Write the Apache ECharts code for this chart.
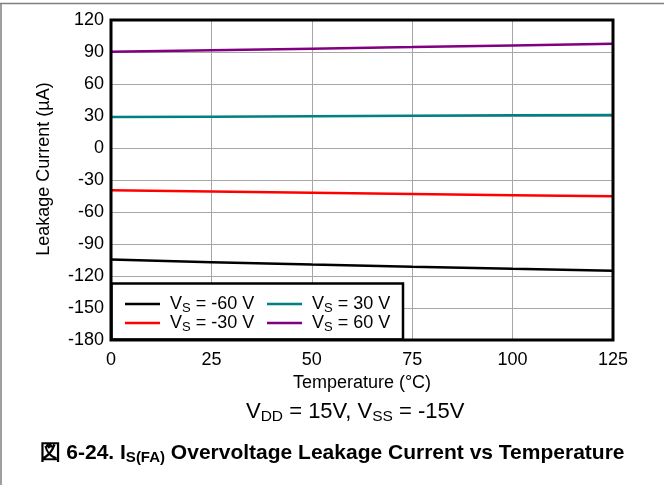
<!DOCTYPE html>
<html>
<head>
<meta charset="utf-8">
<script src="https://cdn.jsdelivr.net/npm/echarts@6/dist/echarts.min.js"></script>
<style>html,body{margin:0;padding:0;background:#fff;}#c{width:664px;height:485px;}</style>
</head>
<body>
<div id="c"></div>
<script>
const temps = [0, 25, 50, 75, 100, 125];
const vsNeg60 = [-104.5, -107, -109.3, -111.3, -113.2, -115];
const vsNeg30 = [-39.5, -40.8, -42, -43.1, -44.2, -45.2];
const vs30 = [29, 29.4, 29.8, 30.2, 30.6, 30.9];
const vs60 = [90.2, 91.6, 93.1, 94.6, 96.2, 97.8];
const seriesNames = ['VS = -60 V', 'VS = -30 V', 'VS = 30 V', 'VS = 60 V'];
const seriesLabels = ['-60 V', '-30 V', '30 V', '60 V'];
const seriesColors = ['#000000', '#ff0000', '#008080', '#800080'];
const seriesData = [vsNeg60, vsNeg30, vs30, vs60];

const FONT = "'Liberation Sans', Arial, sans-serif";
const chart = echarts.init(document.getElementById('c'), null, {renderer: 'canvas'});

const legendPos = [
  {left: 125, top: 295},
  {left: 125, top: 314},
  {left: 267, top: 295},
  {left: 267, top: 314}
];

const legends = seriesNames.map((n, i) => ({
  data: [n],
  left: legendPos[i].left,
  top: legendPos[i].top,
  padding: 0,
  icon: 'rect',
  itemWidth: 35,
  itemHeight: 2.5,
  selectedMode: false,
  z: 10,
  formatter: function () {
    return '{p|}{v|V}{s|S}{v| = ' + seriesLabels[i] + '}';
  },
  textStyle: {
    fontFamily: FONT,
    color: '#000',
    rich: {
      p: {width: 5},
      v: {fontSize: 18, fontFamily: FONT, color: '#000'},
      s: {fontSize: 13, fontFamily: FONT, color: '#000', padding: [8, 0, 0, 0]}
    }
  }
}));

const series = seriesNames.map((n, i) => ({
  name: n,
  type: 'line',
  data: temps.map((t, k) => [t, seriesData[i][k]]),
  symbol: 'none',
  smooth: false,
  color: seriesColors[i],
  lineStyle: {color: seriesColors[i], width: 2.5},
  z: 2
}));

const option = {
  animation: false,
  backgroundColor: '#fff',
  grid: {
    left: 111, right: 51, top: 20, bottom: 145,
    show: false, containLabel: false
  },
  legend: legends,
  xAxis: {
    type: 'value', min: 0, max: 125, interval: 25,
    name: 'Temperature (°C)', nameLocation: 'middle', nameGap: 30,
    nameTextStyle: {fontFamily: FONT, fontSize: 18, color: '#000'},
    axisLine: {show: false}, axisTick: {show: false},
    axisLabel: {fontFamily: FONT, fontSize: 18, color: '#000', margin: 11},
    splitLine: {show: true, lineStyle: {color: '#a6a6a6', width: 1}}
  },
  yAxis: {
    type: 'value', min: -180, max: 120, interval: 30,
    name: 'Leakage Current (µA)', nameLocation: 'middle', nameGap: 58,
    nameTextStyle: {fontFamily: FONT, fontSize: 18, color: '#000', padding: [0, 0, 0, 22]},
    axisLine: {show: false}, axisTick: {show: false},
    axisLabel: {fontFamily: FONT, fontSize: 18, color: '#000', margin: 7},
    splitLine: {show: true, lineStyle: {color: '#a6a6a6', width: 1}}
  },
  series: series,
  graphic: [
    {type: 'line', shape: {x1: 0, y1: 3.5, x2: 664, y2: 3.5}, style: {stroke: '#7f7f7f', lineWidth: 1.5}, z: 1},
    {type: 'line', shape: {x1: 1, y1: 3.5, x2: 1, y2: 485}, style: {stroke: '#7f7f7f', lineWidth: 1.5}, z: 1},
    {type: 'rect', shape: {x: 111, y: 20, width: 502, height: 320}, style: {fill: 'none', stroke: '#000', lineWidth: 3}, z: 6},
    {type: 'rect', shape: {x: 111.5, y: 283.5, width: 291.5, height: 56}, style: {fill: '#fff', stroke: '#000', lineWidth: 2.5}, z: 5},
    {type: 'text', left: 246, top: 401, z: 5,
      style: {text: '{v|V}{s|DD}{v| = 15V, V}{s|SS}{v| = -15V}', fontFamily: FONT,
        rich: {v: {fontSize: 22, fontFamily: FONT, fill: '#000'}, s: {fontSize: 15.5, fontFamily: FONT, fill: '#000', padding: [9, 0, 0, 0]}}}},
    {type: 'text', left: 'center', top: 443, z: 5,
      style: {text: '{b|図 6-24. I}{s|S(FA)}{b| Overvoltage Leakage Current vs Temperature}', fontFamily: FONT,
        rich: {b: {fontSize: 21, fontWeight: 'bold', fontFamily: FONT, fill: '#000'}, s: {fontSize: 15, fontWeight: 'bold', fontFamily: FONT, fill: '#000', padding: [9, 0, 0, 0]}}}}
  ]
};
chart.setOption(option);
</script>
</body>
</html>
